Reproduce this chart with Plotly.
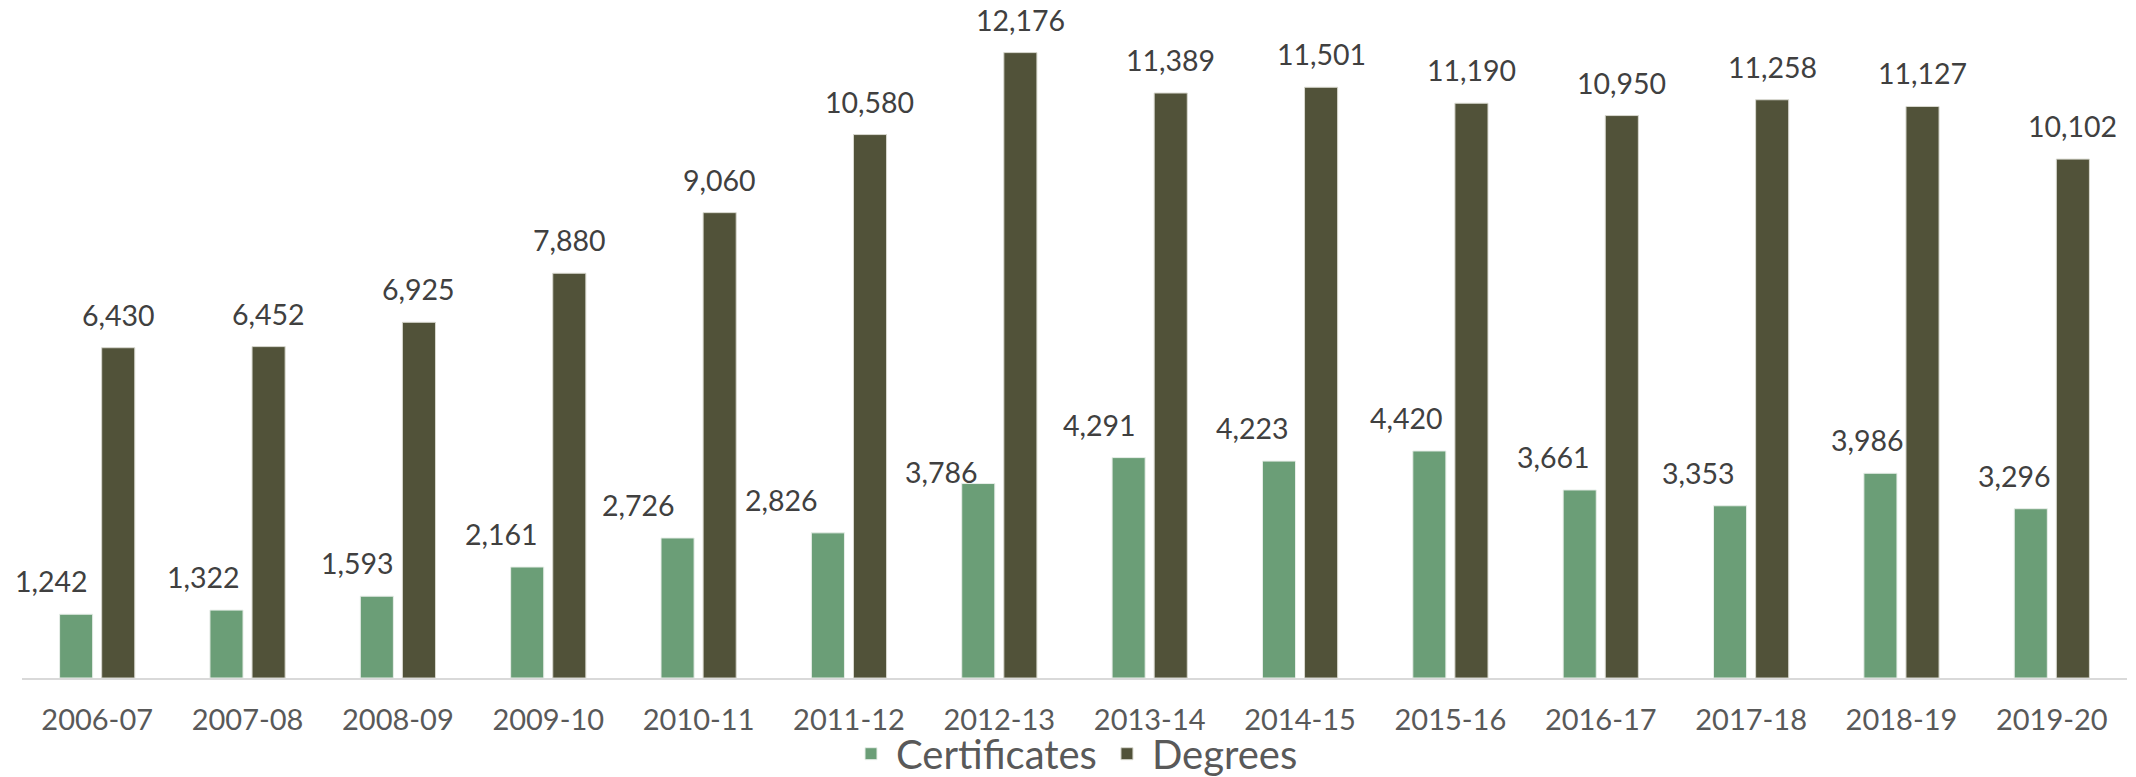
import plotly.graph_objects as go

years = ["2006-07", "2007-08", "2008-09", "2009-10", "2010-11", "2011-12", "2012-13",
         "2013-14", "2014-15", "2015-16", "2016-17", "2017-18", "2018-19", "2019-20"]
certificates = [1242, 1322, 1593, 2161, 2726, 2826, 3786, 4291, 4223, 4420, 3661, 3353, 3986, 3296]
degrees = [6430, 6452, 6925, 7880, 9060, 10580, 12176, 11389, 11501, 11190, 10950, 11258, 11127, 10102]

# label placement tweaks (pixels), as in the original chart
cert_label_dx = [-46, -44, -40, -47, -60, -67, -58, -50, -48, -44, -47, -53, -34, -37]
cert_label_dy = [0, 0, 0, 0, 0, 0, -21, 0, 0, 0, 0, 0, 0, 0]

GREEN = "#6B9E77"
DARK = "#515239"
FONT = "Lato, 'Open Sans', sans-serif"

fig = go.Figure()
fig.add_trace(go.Bar(x=years, y=certificates, name="Certificates",
                     marker=dict(color=GREEN, line=dict(color="#e8eee9", width=1))))
fig.add_trace(go.Bar(x=years, y=degrees, name="Degrees",
                     marker=dict(color=DARK, line=dict(color="#d8d8cf", width=1))))

annotations = []
for i, (yr, v) in enumerate(zip(years, certificates)):
    annotations.append(dict(x=yr, y=v, xref="x", yref="y", text=f"{v:,}", showarrow=False,
                            xanchor="center", yanchor="bottom",
                            xshift=cert_label_dx[i], yshift=14 + cert_label_dy[i],
                            font=dict(family=FONT, size=28.5, color="#404040")))
for i, (yr, v) in enumerate(zip(years, degrees)):
    annotations.append(dict(x=yr, y=v, xref="x", yref="y", text=f"{v:,}", showarrow=False,
                            xanchor="center", yanchor="bottom",
                            xshift=21, yshift=14,
                            font=dict(family=FONT, size=28.5, color="#404040")))

fig.update_layout(
    width=2136, height=777,
    margin=dict(l=22, r=9, t=0, b=99, autoexpand=False),
    paper_bgcolor="white", plot_bgcolor="white",
    barmode="group", bargap=0.44, bargroupgap=0.214,
    font=dict(family=FONT, color="#595959"),
    annotations=annotations,
    showlegend=True,
    legend=dict(orientation="h", x=0.5, xanchor="center",
                yref="container", y=0.03, yanchor="middle",
                font=dict(family=FONT, size=40, color="#595959"),
                traceorder="normal", itemwidth=40, bgcolor="rgba(0,0,0,0)"),
    xaxis=dict(type="category", range=[-0.5, 13.5], automargin=False, showgrid=False,
               showline=True, linecolor="#d9d9d9", linewidth=2,
               ticks="", ticklabelstandoff=15,
               tickfont=dict(family=FONT, size=29, color="#595959")),
    yaxis=dict(visible=False, automargin=False, range=[0, 13200], showgrid=False, zeroline=False),
)

fig.write_html("out.html", config={"displayModeBar": False},
               post_script="document.body.style.margin='0';document.body.style.overflow='hidden';")
